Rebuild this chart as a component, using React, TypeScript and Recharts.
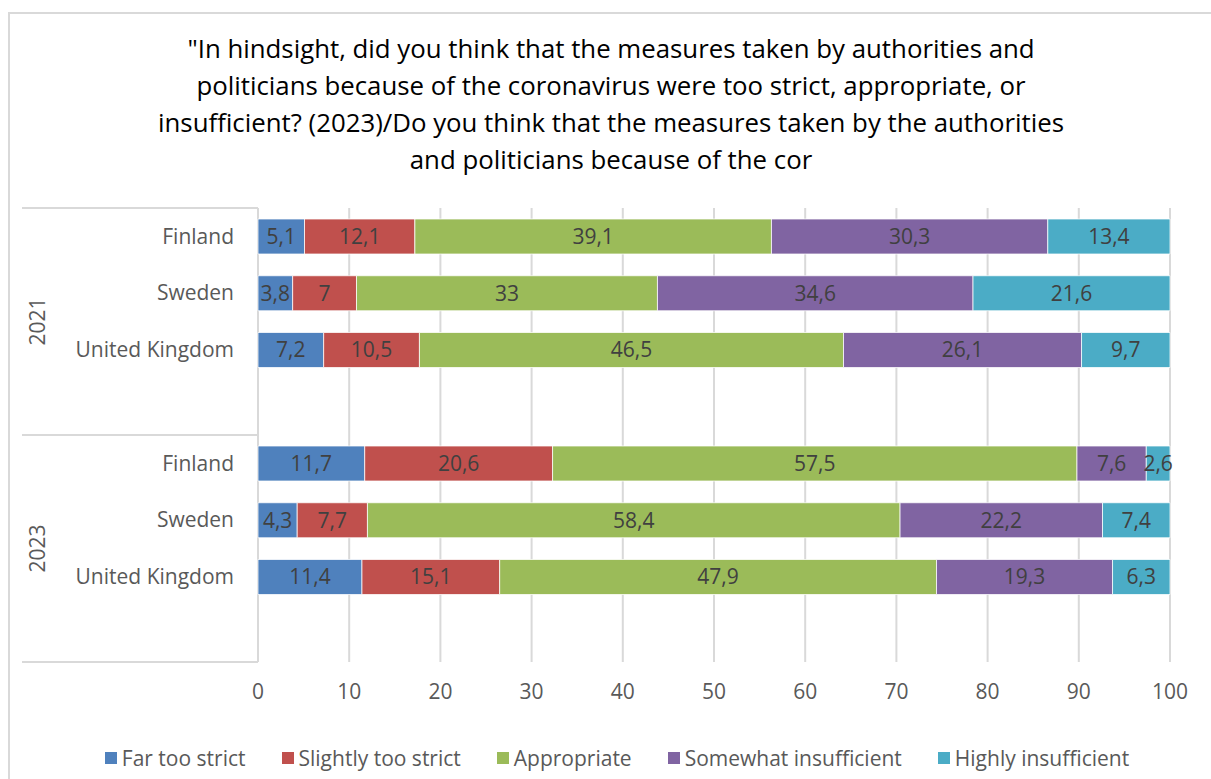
import React from "react";
import { BarChart, Bar, XAxis, YAxis, CartesianGrid, LabelList } from "recharts";

// Survey rows: three countries per year, with an empty spacer row after each year group
const years = ["2021", "2023"];
const countries = ["Finland", "Sweden", "United Kingdom", ""];

const farTooStrict = [5.1, 3.8, 7.2, null, 11.7, 4.3, 11.4, null];
const slightlyTooStrict = [12.1, 7, 10.5, null, 20.6, 7.7, 15.1, null];
const appropriate = [39.1, 33, 46.5, null, 57.5, 58.4, 47.9, null];
const somewhatInsufficient = [30.3, 34.6, 26.1, null, 7.6, 22.2, 19.3, null];
const highlyInsufficient = [13.4, 21.6, 9.7, null, 2.6, 7.4, 6.3, null];

const xTicks = [0, 10, 20, 30, 40, 50, 60, 70, 80, 90, 100];

const titleLines = [
  '"In hindsight, did you think that the measures taken by authorities and',
  "politicians because of the coronavirus were too strict, appropriate, or",
  "insufficient? (2023)/Do you think that the measures taken by the authorities",
  "and politicians because of the cor",
];

const series = [
  { key: "far", name: "Far too strict", values: farTooStrict, color: "#4F81BD" },
  { key: "slight", name: "Slightly too strict", values: slightlyTooStrict, color: "#C0504D" },
  { key: "approp", name: "Appropriate", values: appropriate, color: "#9BBB59" },
  { key: "somewhat", name: "Somewhat insufficient", values: somewhatInsufficient, color: "#8064A2" },
  { key: "highly", name: "Highly insufficient", values: highlyInsufficient, color: "#4BACC6" },
];

const rows = years.flatMap((year) => countries.map((country) => ({ year, country })));

const data = rows.map((r, i) => {
  const row: Record<string, any> = { id: `${r.year}-${i}`, year: r.year, country: r.country };
  series.forEach((s) => {
    row[s.key] = s.values[i];
  });
  return row;
});

// Layout
const WIDTH = 1211;
const HEIGHT = 779;
const PLOT_LEFT = 258;
const PLOT_TOP = 208;
const PLOT_BOTTOM = 662;
const PLOT_RIGHT = 1170;
const X_AXIS_HEIGHT = 40;
const BAND = (PLOT_BOTTOM - PLOT_TOP) / rows.length;
const GROUP_SIZE = countries.length;
const FONT = "'Open Sans', sans-serif";
const AXIS_COLOR = "#595959";
const LINE_COLOR = "#d9d9d9";
const TEXT_SIZE = 21;

const fmt = (v: any) => (v == null ? "" : String(v).replace(".", ","));

const CategoryTick = (props: any) => {
  const { x, y, index } = props;
  const row = rows[index];
  const bandTop = y - BAND / 2;
  const firstInGroup = index % GROUP_SIZE === 0;
  const yearCenter = bandTop + (BAND * GROUP_SIZE) / 2;
  return (
    <g>
      <text
        x={x}
        y={y}
        dy="0.35em"
        textAnchor="end"
        fill={AXIS_COLOR}
        fontSize={TEXT_SIZE}
        fontFamily={FONT}
      >
        {row.country}
      </text>
      {firstInGroup && (
        <>
          <line x1={22} x2={PLOT_LEFT} y1={bandTop} y2={bandTop} stroke={LINE_COLOR} strokeWidth={2} />
          <text
            x={38}
            y={yearCenter}
            dy="0.35em"
            textAnchor="middle"
            fill={AXIS_COLOR}
            fontSize={TEXT_SIZE}
            fontFamily={FONT}
            transform={`rotate(-90 38 ${yearCenter})`}
          >
            {row.year}
          </text>
        </>
      )}
      {index === rows.length - 1 && (
        <line
          x1={22}
          x2={PLOT_LEFT}
          y1={y + BAND / 2}
          y2={y + BAND / 2}
          stroke={LINE_COLOR}
          strokeWidth={2}
        />
      )}
    </g>
  );
};

export default function App() {
  return (
    <div
      style={{
        position: "absolute",
        left: 0,
        top: 0,
        width: WIDTH,
        height: HEIGHT,
        overflow: "hidden",
        background: "#fff",
        fontFamily: FONT,
      }}
    >
      <div
        style={{
          position: "absolute",
          left: 8,
          top: 12,
          width: WIDTH,
          height: HEIGHT,
          border: `2px solid ${LINE_COLOR}`,
        }}
      />
      <div
        style={{
          position: "absolute",
          left: 8,
          top: 30,
          width: 1206,
          textAlign: "center",
          fontSize: 25.8,
          lineHeight: "37px",
          color: "#000",
        }}
      >
        {titleLines.map((t, i) => (
          <div key={i}>{t}</div>
        ))}
      </div>
      <div style={{ position: "absolute", left: 0, top: 0 }}>
        <BarChart
          width={WIDTH}
          height={HEIGHT}
          data={data}
          layout="vertical"
          margin={{
            top: PLOT_TOP,
            left: 0,
            right: WIDTH - PLOT_RIGHT,
            bottom: HEIGHT - PLOT_BOTTOM - X_AXIS_HEIGHT,
          }}
        >
          <CartesianGrid horizontal={false} stroke={LINE_COLOR} strokeWidth={2} />
          <XAxis
            type="number"
            domain={[0, 100]}
            ticks={xTicks}
            height={X_AXIS_HEIGHT}
            axisLine={false}
            tickLine={false}
            tickSize={0}
            tickMargin={22}
            tick={{ fill: AXIS_COLOR, fontSize: TEXT_SIZE, fontFamily: FONT }}
          />
          <YAxis
            type="category"
            dataKey="id"
            width={PLOT_LEFT}
            axisLine={false}
            tickLine={false}
            tickSize={0}
            tickMargin={24}
            interval={0}
            tick={<CategoryTick />}
          />
          {series.map((s) => (
            <Bar
              key={s.key}
              dataKey={s.key}
              name={s.name}
              stackId="a"
              fill={s.color}
              stroke="#ffffff"
              strokeWidth={0.75}
              barSize={35}
              isAnimationActive={false}
            >
              <LabelList
                dataKey={s.key}
                position="center"
                formatter={fmt}
                fill="#404040"
                fontSize={TEXT_SIZE}
                fontFamily={FONT}
              />
            </Bar>
          ))}
        </BarChart>
      </div>
      <div
        style={{
          position: "absolute",
          left: 8,
          top: 744,
          width: 1218,
          display: "flex",
          justifyContent: "center",
          gap: 36,
          fontSize: TEXT_SIZE,
          lineHeight: "28px",
          color: AXIS_COLOR,
        }}
      >
        {series.map((s) => (
          <div key={s.key} style={{ display: "flex", alignItems: "center" }}>
            <span
              style={{ display: "inline-block", width: 12, height: 12, background: s.color, marginRight: 5 }}
            />
            <span>{s.name}</span>
          </div>
        ))}
      </div>
    </div>
  );
}
